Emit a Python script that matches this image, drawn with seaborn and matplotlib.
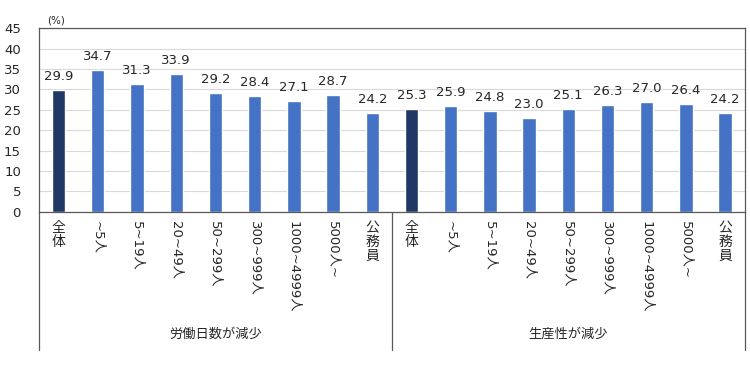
import pandas as pd
import matplotlib.pyplot as plt
import seaborn as sns

# data
groups = ['労働日数が減少', '生産性が減少']
sizes = ['全体', '~5人', '5~19人', '20~49人', '50~299人', '300~999人', '1000~4999人', '5000人~', '公務員']
days_vals = [29.9, 34.7, 31.3, 33.9, 29.2, 28.4, 27.1, 28.7, 24.2]
prod_vals = [25.3, 25.9, 24.8, 23.0, 25.1, 26.3, 27.0, 26.4, 24.2]

rows = []
for g, vals in zip(groups, [days_vals, prod_vals]):
    for s, v in zip(sizes, vals):
        rows.append({'key': f'{g}|{s}', 'size': s, 'value': v,
                     'kind': 'total' if s == '全体' else 'size'})
df = pd.DataFrame(rows)

sns.set_theme(style='white')
plt.rcParams['font.family'] = ['DejaVu Sans', 'Noto Sans CJK JP']

fig = plt.figure(figsize=(7.5, 3.66), dpi=100)
ax = fig.add_axes([0.052, 0.421, 0.941, 0.502])

sns.barplot(data=df, x='key', y='value', hue='kind',
            palette={'total': '#203864', 'size': '#4472C4'},
            width=0.34, dodge=False, legend=False, ax=ax, saturation=1)

for c in ax.containers:
    ax.bar_label(c, fmt='%.1f', padding=5, fontsize=9.5, color='#262626')

ax.set_ylim(0, 45)
ax.set_yticks(range(0, 50, 5))
ax.set_xlim(-0.5, len(df) - 0.5)
ax.grid(axis='y', color='#D9D9D9', lw=0.8)
ax.set_axisbelow(True)
ax.tick_params(axis='y', length=0, pad=13, labelsize=9.5, labelcolor='#262626')
ax.set_xticks(range(len(df)))
ax.set_xticklabels([])
ax.tick_params(axis='x', length=0)
ax.set_xlabel('')
ax.set_ylabel('')
for sp in ax.spines.values():
    sp.set_color('#595959')
    sp.set_linewidth(0.9)

trans = ax.get_xaxis_transform()
for i, s in enumerate(df['size']):
    if any(ch.isascii() for ch in s):
        ax.text(i, -0.05, s, rotation=-90, ha='center', va='top',
                fontsize=9.5, color='#262626', transform=trans)
    else:
        ax.text(i, -0.05, '\n'.join(s), ha='center', va='top',
                fontsize=10, color='#262626', transform=trans, linespacing=1.0)

n = len(sizes)
for x in [-0.5, n - 0.5, 2 * n - 0.5]:
    ax.plot([x, x], [0, -0.75], color='#595959', lw=0.9,
            transform=trans, clip_on=False)
for k, g in enumerate(groups):
    ax.text(k * n + (n - 1) / 2, -0.668, g, ha='center', va='center',
            fontsize=9.5, color='#262626', transform=trans)

fig.text(0.063, 0.945, '(%)', fontsize=7.5, color='#262626', va='center')

fig.savefig('out.png', dpi=100)
